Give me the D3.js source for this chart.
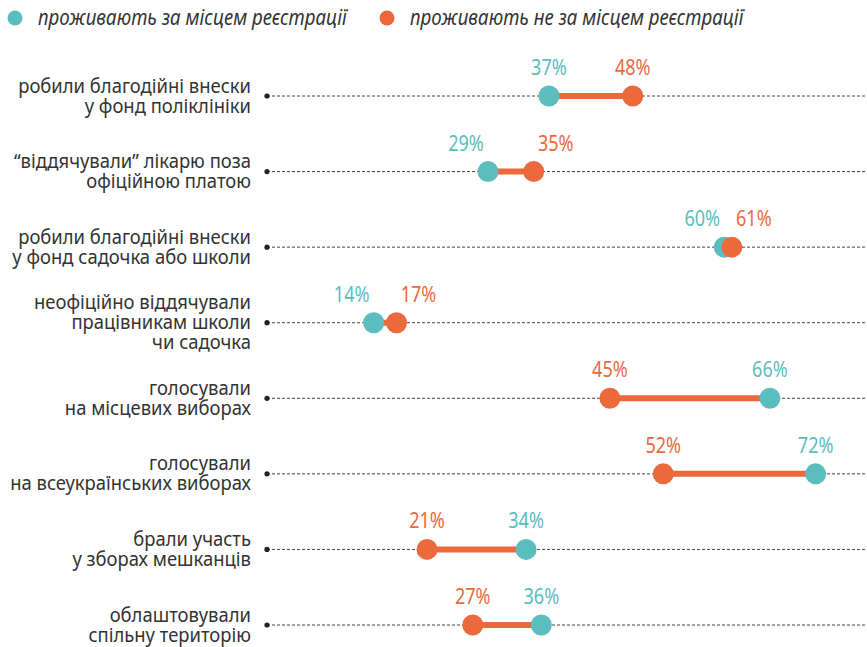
<!DOCTYPE html>
<html>
<head>
<meta charset="utf-8">
<script src="https://cdn.jsdelivr.net/npm/d3@7"></script>
<style>
  body { margin: 0; background: #fff; }
  svg text { fill: #333; }
</style>
</head>
<body>
<div id="chart"></div>
<script>
// categories (row labels, split into lines)
let categories = [
    ["робили благодійні внески", "у фонд поліклініки"],
    ["“віддячували” лікарю поза", "офіційною платою"],
    ["робили благодійні внески", "у фонд садочка або школи"],
    ["неофіційно віддячували", "працівникам школи", "чи садочка"],
    ["голосували", "на місцевих виборах"],
    ["голосували", "на всеукраїнських виборах"],
    ["брали участь", "у зборах мешканців"],
    ["облаштовували", "спільну територію"]
]
// проживають за місцем реєстрації
let registered = [37, 29, 60, 14, 66, 72, 34, 36]
// проживають не за місцем реєстрації
let notRegistered = [48, 35, 61, 17, 45, 52, 21, 27]

let seriesNames = ["проживають за місцем реєстрації", "проживають не за місцем реєстрації"]

let teal = "#5bbdbe", orange = "#ec693b"

let width = 867, height = 647

let svg = d3.select("#chart").append("svg")
    .attr("width", width)
    .attr("height", height)

let x = d3.scaleLinear()
    .domain([0, 100])
    .range([267, 1029])

let y = d3.scalePoint()
    .domain(d3.range(categories.length))
    .range([96, 625])

// squeeze text horizontally to mimic the condensed font of the original
function squeeze(sel, factor) {
    sel.each(function () {
        let w = this.getComputedTextLength()
        d3.select(this)
            .attr("textLength", w * factor)
            .attr("lengthAdjust", "spacingAndGlyphs")
    })
}

// legend
let legend = svg.append("g")
let legX = [15, 387]
seriesNames.forEach(function (name, i) {
    legend.append("circle")
        .attr("cx", legX[i])
        .attr("cy", 18)
        .attr("r", 7.5)
        .attr("fill", i === 0 ? teal : orange)
    legend.append("text")
        .attr("x", legX[i] + 23)
        .attr("y", 25)
        .style("font-family", "'Noto Sans', sans-serif")
        .style("font-style", "italic")
        .style("font-size", "21px")
        .text(name)
        .call(squeeze, 0.89)
})

let rows = svg.selectAll(".row")
    .data(categories)
    .enter()
    .append("g")
    .attr("class", "row")
    .attr("transform", (d, i) => "translate(0," + y(i) + ")")

// dashed guide
rows.append("line")
    .attr("x1", x(0))
    .attr("x2", width)
    .attr("stroke", "#444")
    .attr("stroke-width", 1)
    .attr("stroke-dasharray", "3,2")

rows.append("circle")
    .attr("cx", x(0))
    .attr("r", 2.6)
    .attr("fill", "#222")

// row labels
rows.each(function (lines) {
    let g = d3.select(this)
    let lh = 20
    let start = -(lines.length - 1) * lh / 2
    lines.forEach(function (l, j) {
        g.append("text")
            .attr("x", 251)
            .attr("y", start + j * lh + 6.5)
            .attr("text-anchor", "end")
            .style("font-family", "'Noto Sans', sans-serif")
            .style("font-size", "19px")
            .text(l)
            .call(squeeze, 0.97)
    })
})

// connecting bar
rows.append("line")
    .attr("x1", (d, i) => x(registered[i]))
    .attr("x2", (d, i) => x(notRegistered[i]))
    .attr("stroke", orange)
    .attr("stroke-width", 6)

rows.append("circle")
    .attr("cx", (d, i) => x(registered[i]))
    .attr("r", 10.5)
    .attr("fill", teal)

rows.append("circle")
    .attr("cx", (d, i) => x(notRegistered[i]))
    .attr("r", 10.5)
    .attr("fill", orange)

// value labels; push apart when the two dots are close
function labelX(v, other) {
    let gap = Math.abs(x(v) - x(other))
    if (gap >= 60) return x(v)
    let dir = v < other ? -1 : 1
    return x(v) + dir * 22
}

let pctFont = "'Noto Sans', sans-serif"

rows.append("text")
    .attr("x", (d, i) => labelX(registered[i], notRegistered[i]))
    .attr("y", -21)
    .attr("text-anchor", "middle")
    .style("font-family", pctFont)
    .style("font-size", "22px")
    .style("fill", teal)
    .text((d, i) => registered[i] + "%")
    .call(squeeze, 0.82)

rows.append("text")
    .attr("x", (d, i) => labelX(notRegistered[i], registered[i]))
    .attr("y", -21)
    .attr("text-anchor", "middle")
    .style("font-family", pctFont)
    .style("font-size", "22px")
    .style("fill", orange)
    .text((d, i) => notRegistered[i] + "%")
    .call(squeeze, 0.82)
</script>
</body>
</html>
